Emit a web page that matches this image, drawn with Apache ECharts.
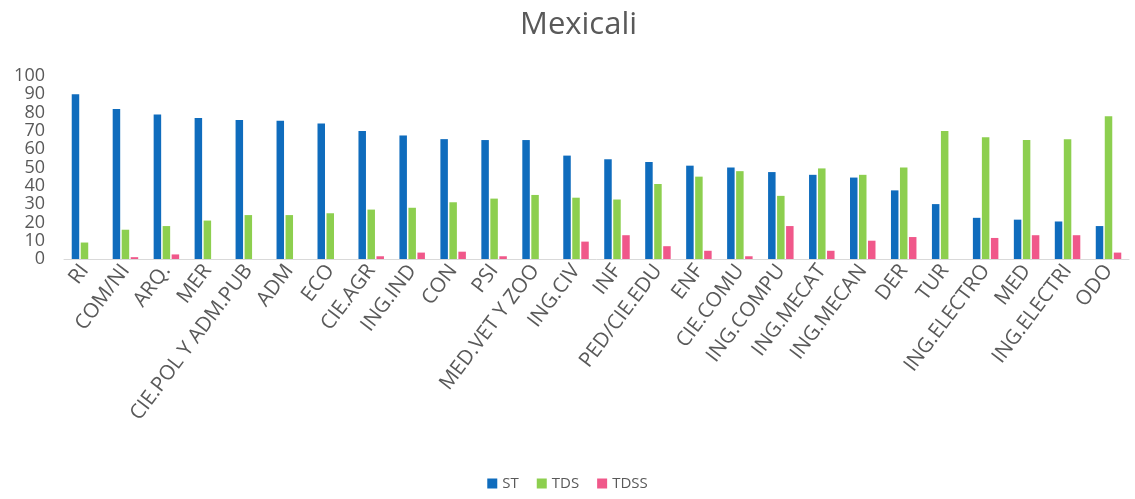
<!DOCTYPE html>
<html>
<head>
<meta charset="utf-8">
<script src="https://cdn.jsdelivr.net/npm/echarts@6/dist/echarts.min.js"></script>
<style>html,body{margin:0;padding:0;background:#fff}#c{width:1135px;height:499px}</style>
</head>
<body>
<div id="c"></div>
<script>
const categories = ["RI","COM/NI","ARQ.","MER","CIE.POL Y ADM.PUB","ADM","ECO","CIE.AGR","ING.IND","CON","PSI","MED.VET Y ZOO","ING.CIV","INF","PED/CIE.EDU","ENF","CIE.COMU","ING.COMPU","ING.MECAT","ING.MECAN","DER","TUR","ING.ELECTRO","MED","ING.ELECTRI","ODO"];
const ST   = [90,82,79,77,76,75.5,74,70,67.5,65.5,65,65,56.5,54.5,53,51,50,47.5,46,44.5,37.5,30,22.5,21.5,20.5,18];
const TDS  = [9,16,18,21,24,24,25,27,28,31,33,35,33.5,32.5,41,45,48,34.5,49.5,46,50,70,66.5,65,65.5,78];
const TDSS = [0,1,2.5,0,0,0,0,1.5,3.5,4,1.5,0,9.5,13,7,4.5,1.5,18,4.5,10,12,0,11.5,13,13,3.5];
const seriesNames = ["ST","TDS","TDSS"];
const colors = ["#0f6cbd","#8dcf4f","#f0588a"];

const chart = echarts.init(document.getElementById('c'));
const font = "'Open Sans', sans-serif";
chart.setOption({
  animation:false,
  color: colors,
  title:{text:"Mexicali",left:515,top:5,textStyle:{fontFamily:font,fontSize:31,fontWeight:'normal',color:'#595959'}},
  legend:{bottom:3,left:'center',itemWidth:10,itemHeight:10,itemGap:18,icon:'rect',
    textStyle:{fontFamily:font,fontSize:15,color:'#595959'},data:seriesNames},
  grid:{left:64,right:6,top:76,bottom:240,containLabel:false},
  xAxis:{type:'category',data:categories,
    axisLine:{lineStyle:{color:'#d9d9d9'}},axisTick:{show:false},
    axisLabel:{rotate:53,interval:0,fontFamily:font,fontSize:20.5,color:'#595959',margin:8}},
  yAxis:{type:'value',min:0,max:100,interval:10,
    axisLine:{show:false},axisTick:{show:false},splitLine:{show:false},
    axisLabel:{fontFamily:font,fontSize:18,color:'#595959',margin:19}},
  series:[
    {name:"ST",type:'bar',data:ST,barWidth:7.5,barGap:'20%'},
    {name:"TDS",type:'bar',data:TDS,barWidth:7.5,barGap:'20%'},
    {name:"TDSS",type:'bar',data:TDSS,barWidth:7.5,barGap:'20%'}
  ]
});
</script>
</body>
</html>
